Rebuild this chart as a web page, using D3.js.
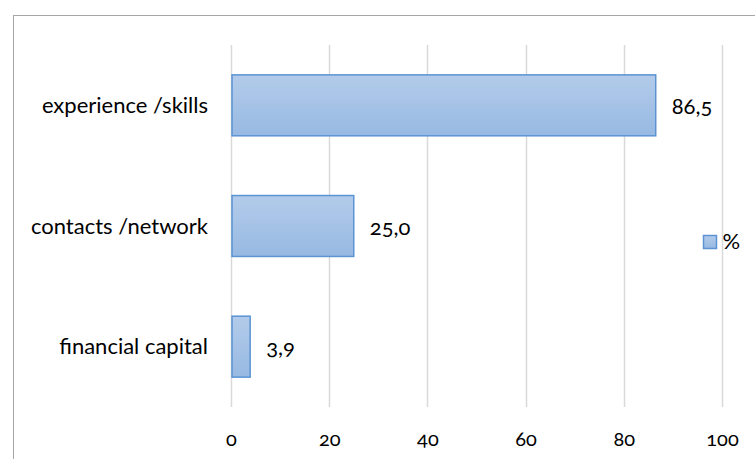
<!DOCTYPE html>
<html>
<head>
<meta charset="utf-8">
<script src="https://cdn.jsdelivr.net/npm/d3@7"></script>
<style>
  html, body { margin: 0; padding: 0; background: #fff; }
  svg text { font-family: Lato, "Open Sans", sans-serif; fill: #000; }
  .num { font-variant-numeric: oldstyle-nums; font-feature-settings: "onum" 1; }
</style>
</head>
<body>
<svg id="chart" width="755" height="459"></svg>
<script>
// Categories, shares in percent, and axis ticks
const categories = ["experience /skills", "contacts /network", "financial capital"];
const values = [86.5, 25.0, 3.9];
const tickValues = [0, 20, 40, 60, 80, 100];
const seriesName = "%";

const svg = d3.select("#chart");
const W = 755, H = 459;
const plot = { left: 231, right: 722, top: 45, bottom: 407 };

// Outer chart frame (runs past the right and bottom edges)
svg.append("rect")
  .attr("x", 13.5).attr("y", 15.5)
  .attr("width", W + 20).attr("height", H + 20)
  .attr("fill", "none").attr("stroke", "#a6a6a6").attr("stroke-width", 1);

const x = d3.scaleLinear().domain([0, 100]).range([plot.left, plot.right]);
const y = d3.scaleBand().domain(categories).range([plot.top, plot.bottom]).paddingInner(0.495).paddingOuter(0.2475);

// Bar gradient
const defs = svg.append("defs");
const grad = defs.append("linearGradient").attr("id", "barGrad")
  .attr("x1", 0).attr("y1", 0).attr("x2", 0).attr("y2", 1);
grad.append("stop").attr("offset", "0%").attr("stop-color", "#b3cbea");
grad.append("stop").attr("offset", "100%").attr("stop-color", "#97b9e2");

// Vertical gridlines
svg.append("g").selectAll("line").data(tickValues).join("line")
  .attr("x1", d => Math.round(x(d)) + 0.5).attr("x2", d => Math.round(x(d)) + 0.5)
  .attr("y1", plot.top).attr("y2", plot.bottom)
  .attr("stroke", "#d9d9d9").attr("stroke-width", 1.5);

// Tick labels along the bottom
const xAxis = d3.axisBottom(x).tickValues(tickValues).tickSize(0).tickPadding(0).tickFormat(d3.format("d"));
const gx = svg.append("g").attr("transform", "translate(0, 446)").call(xAxis);
gx.select(".domain").remove();
gx.selectAll("text")
  .attr("class", "num").attr("dy", 0).attr("y", 0)
  .attr("font-size", 20).attr("font-family", "Lato, sans-serif").attr("fill", "#000");

// Bars
svg.append("g").selectAll("rect").data(values).join("rect")
  .attr("x", x(0) + 1)
  .attr("y", (d, i) => y(categories[i]))
  .attr("width", d => x(d) - x(0) - 1)
  .attr("height", y.bandwidth())
  .attr("fill", "url(#barGrad)")
  .attr("stroke", "#5b93d3").attr("stroke-width", 1.5);

// Value labels
const fmt = v => d3.format(".1f")(v).replace(".", ",");
svg.append("g").selectAll("text").data(values).join("text")
  .attr("class", "num")
  .attr("x", d => x(d) + 16)
  .attr("y", (d, i) => y(categories[i]) + y.bandwidth() / 2 + 8.5)
  .attr("font-size", 22)
  .text(fmt);

// Category labels
svg.append("g").selectAll("text").data(categories).join("text")
  .attr("x", 208)
  .attr("y", d => y(d) + y.bandwidth() / 2 + 7.5)
  .attr("text-anchor", "end")
  .attr("font-size", 22)
  .text(d => d);

// Legend
const lg = svg.append("g").attr("transform", "translate(703.5, 235.5)");
lg.append("rect").attr("x", 0).attr("y", 0).attr("width", 13).attr("height", 13)
  .attr("fill", "url(#barGrad)").attr("stroke", "#5b93d3").attr("stroke-width", 1.5);
lg.append("text").attr("x", 19).attr("y", 13.5)
  .attr("font-size", 22).text(seriesName);
</script>
</body>
</html>
